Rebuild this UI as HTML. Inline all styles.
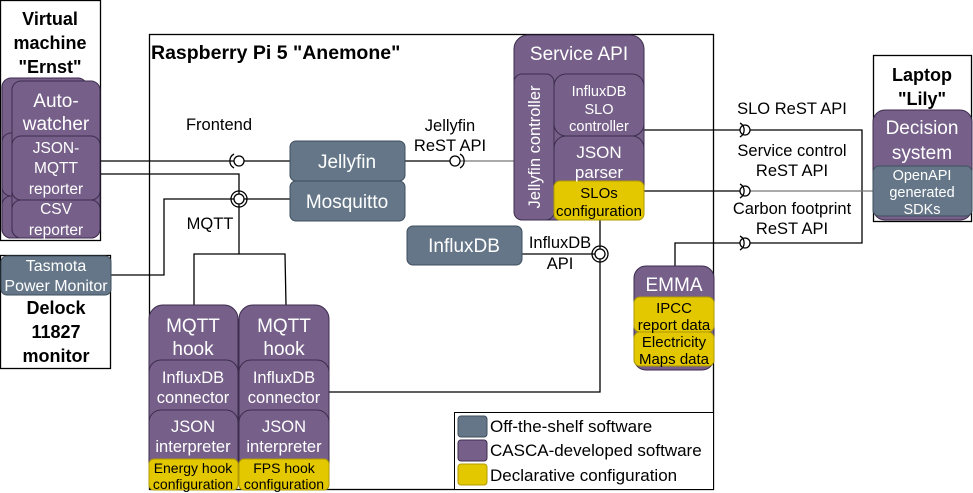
<!DOCTYPE html>
<html><head><style>body{margin:0;background:#fff}svg{display:block}</style></head><body>
<svg width="973" height="493" viewBox="0 0 973 493" xmlns="http://www.w3.org/2000/svg" font-family="Liberation Sans, sans-serif">
<g fill="none" stroke="#000" stroke-width="1.3">
<rect x="149.5" y="34.5" width="564" height="455"/>
<rect x="0.5" y="0.5" width="100" height="240"/>
<rect x="0.5" y="255.5" width="110" height="113"/>
<rect x="873.5" y="55.5" width="98" height="166"/>
<polyline points="100,161 234,161"/>
<line x1="244" y1="161" x2="290" y2="161"/>
<polyline points="100,174 239,174 239,194"/>
<polyline points="111,275 164,275 164,199 234,199"/>
<line x1="244" y1="199" x2="290" y2="199"/>
<polyline points="239,204 239,254"/>
<polyline points="194,305 194,254 285,254 286,305"/>
<line x1="405" y1="161" x2="450" y2="161"/>
<line x1="460" y1="161" x2="514" y2="161" stroke="#777"/>
<line x1="522" y1="254" x2="595" y2="254"/>
<line x1="600" y1="220" x2="600" y2="249"/>
<polyline points="600,259 600,392 329,392"/>
<line x1="644" y1="130" x2="740" y2="130"/>
<polyline points="750,130 862,130 862,243 750,243"/>
<line x1="644" y1="191" x2="740" y2="191"/>
<line x1="750" y1="191" x2="873" y2="191" stroke="#777"/>
<polyline points="740,243 675,243 675,266"/>
<circle cx="239" cy="161" r="5"/><path d="M234,154 A8,8 0 0 0 234,168"/>
<circle cx="239" cy="199" r="5"/><circle cx="239" cy="199" r="8"/>
<circle cx="455" cy="161" r="5"/><path d="M460,154 A8,8 0 0 1 460,168"/>
<circle cx="600" cy="254" r="5"/><circle cx="600" cy="254" r="8"/>
<circle cx="745" cy="130" r="5"/><path d="M740,123 A8,8 0 0 1 740,137"/>
<circle cx="745" cy="191" r="5"/><path d="M740,184 A8,8 0 0 1 740,198"/>
<circle cx="745" cy="243" r="5"/><path d="M740,236 A8,8 0 0 1 740,250"/>
</g>
<g font-weight="bold" font-size="18" text-anchor="middle" fill="#000">
<text x="50" y="25">Virtual</text><text x="50" y="49">machine</text><text x="50" y="73">"Ernst"</text>
<text x="56" y="314">Delock</text><text x="56" y="338">11827</text><text x="56" y="362">monitor</text>
<text x="922" y="81">Laptop</text><text x="922" y="105">"Lily"</text>
</g>
<text x="151" y="59" font-weight="bold" font-size="19.5">Raspberry Pi 5 "Anemone"</text>
<g stroke="#3d2d4d" stroke-width="1">
<rect x="2" y="78" width="85" height="160" rx="9" fill="#76608a"/>
<rect x="2" y="133" width="85" height="63" rx="9" fill="#76608a"/>
<rect x="2" y="196" width="85" height="42" rx="9" fill="#76608a"/>
<rect x="12" y="81" width="88" height="157" rx="9" fill="#76608a"/>
<rect x="12" y="136" width="88" height="64" rx="9" fill="#76608a"/>
<rect x="12" y="200" width="88" height="38" rx="9" fill="#76608a"/>
</g>
<rect x="1" y="256" width="110" height="39" rx="6" fill="#647687" stroke="#3f4f5e"/>
<g stroke="#3f4f5e" fill="#647687">
<rect x="290" y="141" width="115" height="40" rx="6"/>
<rect x="290" y="181" width="115" height="40" rx="6"/>
<rect x="407" y="226" width="115" height="39" rx="6"/>
</g>
<g stroke="#3d2d4d" fill="#76608a">
<rect x="514" y="35" width="130" height="185" rx="14"/>
<rect x="514" y="74" width="40" height="146" rx="8"/>
<rect x="554" y="74" width="90" height="62" rx="12"/>
<rect x="554" y="136" width="90" height="84" rx="12"/>
</g>
<rect x="554" y="181" width="90" height="39" rx="6" fill="#e3c800" stroke="#b09a00"/>
<rect x="873" y="110" width="99" height="110" rx="12" fill="#76608a" stroke="#3d2d4d"/>
<rect x="873" y="166" width="99" height="50" rx="6" fill="#647687" stroke="#3f4f5e"/>
<rect x="634" y="266" width="80" height="104" rx="12" fill="#76608a" stroke="#3d2d4d"/>
<rect x="634" y="297" width="80" height="35" rx="6" fill="#e3c800" stroke="#b09a00"/>
<rect x="634" y="332" width="80" height="34" rx="6" fill="#e3c800" stroke="#b09a00"/>
<g stroke="#3d2d4d" fill="#76608a">
<rect x="149" y="305" width="89" height="185" rx="14"/>
<rect x="149" y="360" width="89" height="130" rx="12"/>
<rect x="149" y="410" width="89" height="80" rx="12"/>
<rect x="239" y="305" width="90" height="185" rx="14"/>
<rect x="239" y="360" width="90" height="130" rx="12"/>
<rect x="239" y="410" width="90" height="80" rx="12"/>
</g>
<rect x="149" y="459" width="89" height="31" rx="5" fill="#e3c800" stroke="#b09a00"/>
<rect x="239" y="459" width="90" height="31" rx="5" fill="#e3c800" stroke="#b09a00"/>
<rect x="454.5" y="412.5" width="259" height="77" fill="#fff" stroke="#000"/>
<rect x="458" y="416" width="29" height="21" rx="3" fill="#647687" stroke="#3f4f5e"/>
<rect x="458" y="440" width="29" height="21" rx="3" fill="#76608a" stroke="#3d2d4d"/>
<rect x="458" y="464" width="29" height="21" rx="3" fill="#e3c800" stroke="#b09a00"/>
<g font-size="17" fill="#000">
<text x="490" y="432">Off-the-shelf software</text>
<text x="490" y="456">CASCA-developed software</text>
<text x="490" y="481">Declarative configuration</text>
</g>
<g font-size="16.5" fill="#000" text-anchor="middle">
<text x="219" y="130">Frontend</text>
<text x="210" y="229">MQTT</text>
<text x="450" y="131">Jellyfin</text><text x="450" y="151">ReST API</text>
<text x="560" y="248">InfluxDB</text><text x="560" y="269">API</text>
<text x="792" y="114">SLO ReST API</text>
<text x="792" y="156">Service control</text><text x="792" y="176">ReST API</text>
<text x="792" y="214">Carbon footprint</text><text x="792" y="234">ReST API</text>
</g>
<g fill="#fff" text-anchor="middle">
<g font-size="19"><text x="56" y="107">Auto-</text><text x="56" y="130">watcher</text></g>
<g font-size="15.5"><text x="56" y="153">JSON-</text><text x="56" y="173">MQTT</text><text x="56" y="194">reporter</text>
<text x="56" y="214">CSV</text><text x="56" y="235">reporter</text></g>
<g font-size="16"><text x="56" y="271">Tasmota</text><text x="56" y="291">Power Monitor</text></g>
<g font-size="19"><text x="347" y="168">Jellyfin</text><text x="347" y="208">Mosquitto</text><text x="464" y="252">InfluxDB</text>
<text x="579" y="60">Service API</text><text x="674" y="291">EMMA</text>
<text x="922" y="134">Decision</text><text x="922" y="159">system</text>
<text x="193" y="332">MQTT</text><text x="193" y="355">hook</text><text x="284" y="332">MQTT</text><text x="284" y="355">hook</text></g>
<g font-size="14.5"><text x="599" y="96">InfluxDB</text><text x="599" y="114">SLO</text><text x="599" y="131">controller</text>
<text x="922" y="180">OpenAPI</text><text x="922" y="197">generated</text><text x="922" y="214">SDKs</text></g>
<g font-size="17"><text x="599" y="158">JSON</text><text x="599" y="178">parser</text></g>
<text transform="translate(540,147) rotate(-90)" font-size="16.5">Jellyfin controller</text>
<g font-size="16.5"><text x="193" y="383">InfluxDB</text><text x="193" y="403">connector</text><text x="284" y="383">InfluxDB</text><text x="284" y="403">connector</text>
<text x="193" y="432">JSON</text><text x="193" y="452">interpreter</text><text x="284" y="432">JSON</text><text x="284" y="452">interpreter</text></g>
</g>
<g fill="#000" text-anchor="middle">
<g font-size="15"><text x="599" y="198">SLOs</text><text x="599" y="216">configuration</text>
<text x="674" y="313">IPCC</text><text x="674" y="330">report data</text><text x="674" y="347">Electricity</text><text x="674" y="364">Maps data</text></g>
<g font-size="14"><text x="193" y="473">Energy hook</text><text x="193" y="489">configuration</text><text x="284" y="473">FPS hook</text><text x="284" y="489">configuration</text></g>
</g>
</svg>
</body></html>
